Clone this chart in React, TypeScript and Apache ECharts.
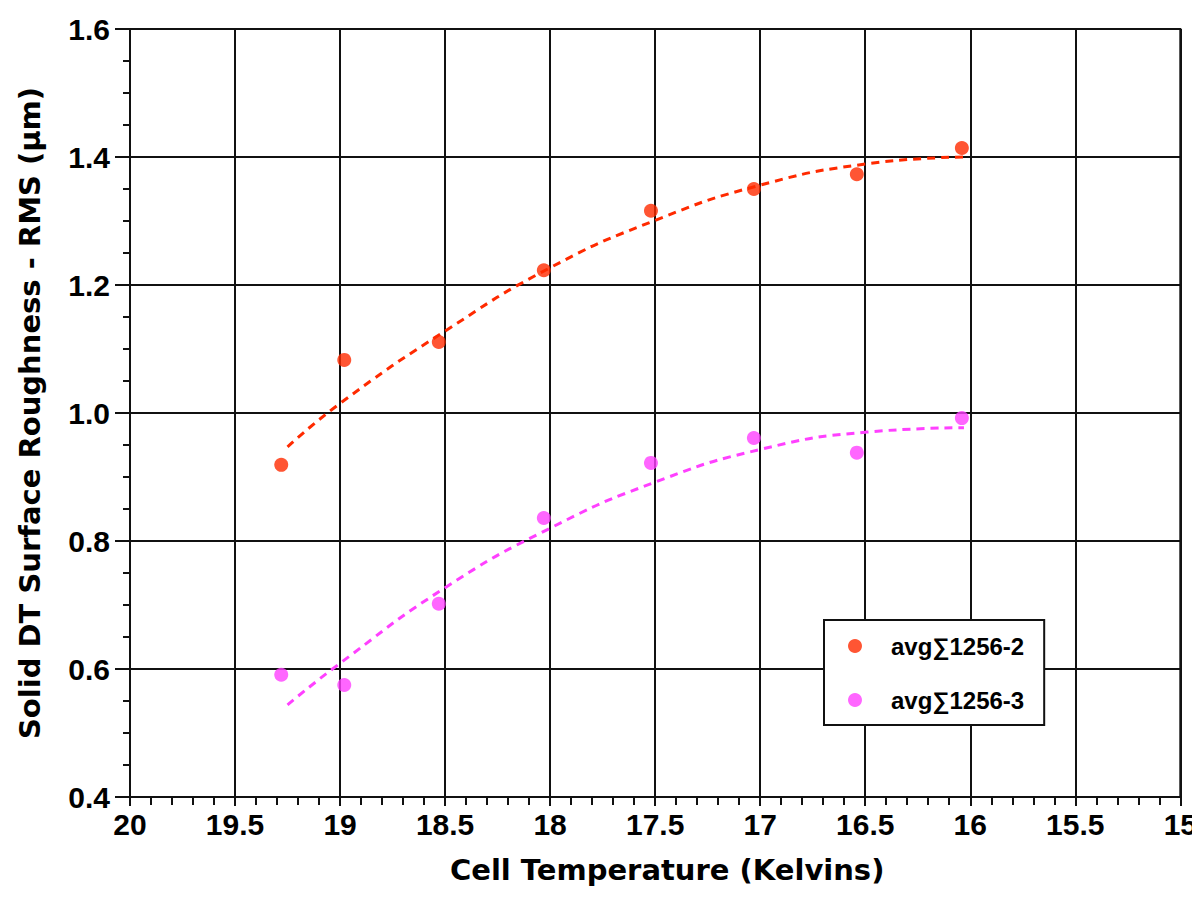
import React, { useEffect, useRef } from "react";
import * as echarts from "echarts";

const series2X = [19.28, 18.98, 18.53, 18.03, 17.52, 17.03, 16.54, 16.04];
const series2Y = [0.919, 1.083, 1.111, 1.223, 1.316, 1.35, 1.373, 1.414];
const series3X = [19.28, 18.98, 18.53, 18.03, 17.52, 17.03, 16.54, 16.04];
const series3Y = [0.591, 0.575, 0.702, 0.836, 0.922, 0.961, 0.938, 0.992];

const fit2X = [19.25, 19.0, 18.5, 18.0, 17.5, 17.0, 16.5, 16.03];
const fit2Y = [0.947, 1.015, 1.128, 1.227, 1.301, 1.356, 1.389, 1.4];
const fit3X = [19.25, 19.0, 18.5, 18.0, 17.5, 17.0, 16.5, 16.03];
const fit3Y = [0.544, 0.609, 0.727, 0.82, 0.892, 0.943, 0.97, 0.977];

const NAME2 = "avg∑1256-2";
const NAME3 = "avg∑1256-3";
const RED = "#ff2a00";
const MAGENTA = "#ff40ff";
const FONT = "'Liberation Sans', Arial, Helvetica, sans-serif";
const WIDE = "'DejaVu Sans', Verdana, sans-serif";

const zip = (xs: number[], ys: number[]) => xs.map((x, i) => [x, ys[i]]);

export default function App() {
  const ref = useRef<HTMLDivElement>(null);
  useEffect(() => {
    if (!ref.current) return;
    const chart = echarts.init(ref.current, undefined, { renderer: "svg" });
    const black = "#111";
    chart.setOption({
      animation: false,
      backgroundColor: "#fff",
      textStyle: { fontFamily: FONT },
      grid: {
        left: 130,
        right: 15,
        top: 29,
        bottom: 101,
        show: true,
        borderColor: black,
        borderWidth: 2,
      },
      legend: {
        data: [NAME2, NAME3],
        orient: "vertical",
        left: 824,
        top: 620,
        padding: [14, 20, 13, 24],
        itemGap: 30,
        itemWidth: 14,
        itemHeight: 14,
        icon: "circle",
        backgroundColor: "#fff",
        borderColor: black,
        borderWidth: 2,
        textStyle: {
          fontFamily: FONT,
          fontWeight: "bold",
          fontSize: 24,
          color: "#000",
          padding: [0, 0, 0, 24],
        },
      },
      xAxis: {
        type: "value",
        inverse: true,
        min: 15,
        max: 20,
        interval: 0.5,
        name: "Cell Temperature (Kelvins)",
        nameLocation: "middle",
        nameGap: 58,
        nameTextStyle: {
          fontFamily: WIDE,
          fontWeight: "bold",
          fontSize: 29,
          color: "#000",
          padding: [0, 0, 0, 24],
        },
        axisLine: { show: true, lineStyle: { color: black, width: 2 } },
        axisTick: { show: true, inside: false, length: 9, lineStyle: { color: black, width: 2 } },
        minorTick: { show: true, splitNumber: 5, length: 8, lineStyle: { color: black, width: 2 } },
        splitLine: { show: true, lineStyle: { color: black, width: 2 } },
        axisLabel: {
          margin: 12,
          fontFamily: FONT,
          fontWeight: "bold",
          fontSize: 30,
          color: "#000",
          showMaxLabel: true,
          showMinLabel: true,
        },
      },
      yAxis: {
        type: "value",
        min: 0.4,
        max: 1.6,
        interval: 0.2,
        name: "Solid DT Surface Roughness - RMS (μm)",
        nameLocation: "middle",
        nameGap: 86,
        nameTextStyle: {
          fontFamily: WIDE,
          fontWeight: "bold",
          fontSize: 29,
          color: "#000",
        },
        axisLine: { show: true, lineStyle: { color: black, width: 2 } },
        axisTick: { show: true, inside: false, length: 15, lineStyle: { color: black, width: 2 } },
        minorTick: { show: true, splitNumber: 4, length: 7, lineStyle: { color: black, width: 2 } },
        splitLine: { show: true, lineStyle: { color: black, width: 2 } },
        axisLabel: {
          margin: 20,
          fontFamily: FONT,
          fontWeight: "bold",
          fontSize: 30,
          color: "#000",
          formatter: (v: number) => v.toFixed(1),
        },
      },
      series: [
        {
          name: "fit2",
          type: "line",
          data: zip(fit2X, fit2Y),
          smooth: true,
          showSymbol: false,
          symbol: "none",
          lineStyle: { color: RED, width: 3, type: [8, 6] },
          z: 3,
        },
        {
          name: "fit3",
          type: "line",
          data: zip(fit3X, fit3Y),
          smooth: true,
          showSymbol: false,
          symbol: "none",
          lineStyle: { color: MAGENTA, width: 3, type: [8, 6] },
          z: 3,
        },
        {
          name: NAME2,
          type: "scatter",
          data: zip(series2X, series2Y),
          symbol: "circle",
          symbolSize: 14,
          itemStyle: { color: RED },
          z: 4,
        },
        {
          name: NAME3,
          type: "scatter",
          data: zip(series3X, series3Y),
          symbol: "circle",
          symbolSize: 14,
          itemStyle: { color: MAGENTA },
          z: 4,
        },
      ],
    });
    return () => chart.dispose();
  }, []);
  return <div ref={ref} style={{ width: 1200, height: 898, margin: -8 }} />;
}
